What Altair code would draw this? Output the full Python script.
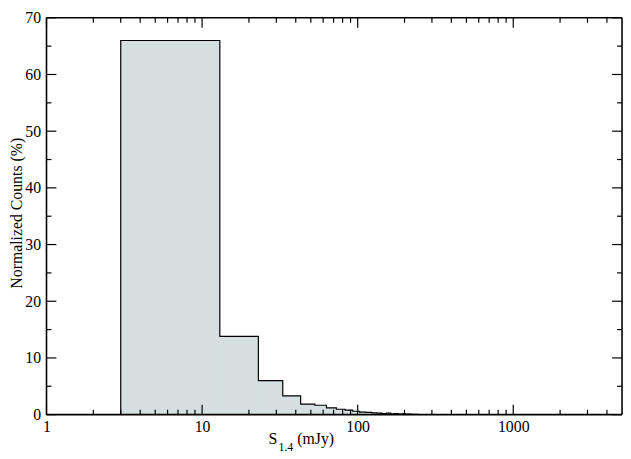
import altair as alt
import pandas as pd

# Histogram data (linear bins of 10 mJy starting at 3 mJy)
bin_start = [3, 13, 23, 33, 43, 53, 63, 73, 83, 93, 103, 113, 123, 133, 143,
             153, 163, 173, 183, 193, 203, 213, 223, 233]
bin_end = [13, 23, 33, 43, 53, 63, 73, 83, 93, 103, 113, 123, 133, 143, 153,
           163, 173, 183, 193, 203, 213, 223, 233, 243]
counts = [66.0, 13.8, 6.0, 3.3, 1.85, 1.65, 1.2, 0.95, 0.8, 0.6, 0.45, 0.4,
          0.3, 0.25, 0.2, 0.25, 0.15, 0.2, 0.1, 0.15, 0.1, 0.1, 0.05, 0.05]

x_major = [1, 10, 100, 1000]
x_minor = [2, 3, 4, 5, 6, 7, 8, 9, 20, 30, 40, 50, 60, 70, 80, 90,
           200, 300, 400, 500, 600, 700, 800, 900, 2000, 3000, 4000]
y_major = [0, 10, 20, 30, 40, 50, 60, 70]
y_minor = [5, 15, 25, 35, 45, 55, 65]

W, H = 583, 402
FONT = "Liberation Serif, Times New Roman, Times, serif"
MAJ, MIN = 10, 5
FILL = "#d5dfe0"

bars = pd.DataFrame({"x0": bin_start, "x1": bin_end, "y": counts})
# step outline points
step_x = [bin_start[0]] + bin_start + [bin_end[-1]]
step_y = [0] + counts + [0]
outline = pd.DataFrame({"x": step_x, "y": step_y, "order": list(range(len(step_x)))})

xscale = alt.Scale(type="log", domain=[1, 5000], nice=False)
yscale = alt.Scale(domain=[0, 70], nice=False)

fill = alt.Chart(bars).mark_rect(color=FILL, stroke=FILL, strokeWidth=0.6).encode(
    x=alt.X("x0:Q", scale=xscale,
            axis=alt.Axis(values=x_major, format="d", ticks=False, domain=False,
                          grid=False, title=None, labelFont=FONT, labelFontSize=16,
                          labelColor="black", labelPadding=4, labelFlush=False)),
    x2="x1:Q",
    y=alt.Y("y:Q", scale=yscale,
            axis=alt.Axis(values=y_major, ticks=False, domain=False, grid=False,
                          title=None, labelFont=FONT, labelFontSize=16,
                          labelColor="black", labelPadding=6)),
    y2=alt.datum(0),
)

line = alt.Chart(outline).mark_line(interpolate="step-after", color="black",
                                    strokeWidth=1.2).encode(
    x=alt.X("x:Q", scale=xscale),
    y=alt.Y("y:Q", scale=yscale),
    order="order:Q",
)


def xticks(vals, length):
    df = pd.DataFrame({"v": vals})
    bot = alt.Chart(df).mark_rule(color="black", strokeWidth=1.2).encode(
        x=alt.X("v:Q", scale=xscale), y=alt.value(H), y2=alt.value(H - length))
    top = alt.Chart(df).mark_rule(color="black", strokeWidth=1.2).encode(
        x=alt.X("v:Q", scale=xscale), y=alt.value(0), y2=alt.value(length))
    return [bot, top]


def yticks(vals, length):
    df = pd.DataFrame({"v": vals})
    left = alt.Chart(df).mark_rule(color="black", strokeWidth=1.2).encode(
        y=alt.Y("v:Q", scale=yscale), x=alt.value(0), x2=alt.value(length))
    right = alt.Chart(df).mark_rule(color="black", strokeWidth=1.2).encode(
        y=alt.Y("v:Q", scale=yscale), x=alt.value(W - length), x2=alt.value(W))
    return [left, right]


ticks = xticks(x_major, MAJ) + xticks(x_minor, MIN) + yticks(y_major, MAJ) + yticks(y_minor, MIN)

# plot frame
fr = pd.DataFrame({"k": [0]})
frame = [
    alt.Chart(fr).mark_rule(color="black", strokeWidth=1.6).encode(
        x=alt.value(0), x2=alt.value(W), y=alt.value(0)),
    alt.Chart(fr).mark_rule(color="black", strokeWidth=1.6).encode(
        x=alt.value(0), x2=alt.value(W), y=alt.value(H)),
    alt.Chart(fr).mark_rule(color="black", strokeWidth=1.6).encode(
        y=alt.value(0), y2=alt.value(H), x=alt.value(0)),
    alt.Chart(fr).mark_rule(color="black", strokeWidth=1.6).encode(
        y=alt.value(0), y2=alt.value(H), x=alt.value(W)),
]

s_text = alt.Chart(pd.DataFrame({"t": ["S"]})).mark_text(
    font=FONT, fontSize=16, align="left", baseline="alphabetic", color="black").encode(
    text="t:N", x=alt.value(225), y=alt.value(432))
sub_text = alt.Chart(pd.DataFrame({"t": ["1.4"]})).mark_text(
    font=FONT, fontSize=12, align="left", baseline="alphabetic", color="black").encode(
    text="t:N", x=alt.value(235), y=alt.value(439))
unit_text = alt.Chart(pd.DataFrame({"t": ["(mJy)"]})).mark_text(
    font=FONT, fontSize=16, align="left", baseline="alphabetic", color="black").encode(
    text="t:N", x=alt.value(254), y=alt.value(432))
ytitle = alt.Chart(pd.DataFrame({"t": ["Normalized Counts (%)"]})).mark_text(
    font=FONT, fontSize=16, align="center", baseline="middle", angle=270,
    color="black").encode(text="t:N", x=alt.value(-30), y=alt.value(198))

chart = alt.layer(fill, line, *ticks, *frame, s_text, sub_text, unit_text, ytitle).properties(
    width=W, height=H,
    autosize=alt.AutoSizeParams(type="none"),
    padding={"left": 39, "top": 7, "right": 1, "bottom": 40},
).configure(background="white").configure_view(strokeWidth=0)

chart.save("out.html", embed_options={"renderer": "svg", "actions": False})
